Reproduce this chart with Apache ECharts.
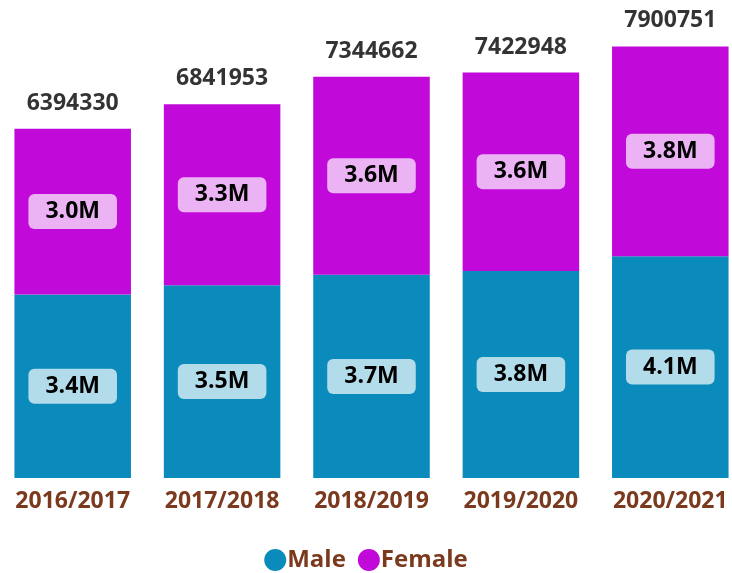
<!DOCTYPE html>
<html>
<head>
<meta charset="utf-8">
<script src="https://cdn.jsdelivr.net/npm/echarts@6/dist/echarts.min.js"></script>
<style>
  html, body { margin: 0; padding: 0; background: #fff; }
  #chart { width: 732px; height: 573px; }
</style>
</head>
<body>
<div id="chart"></div>
<script>
  const years = ['2016/2017', '2017/2018', '2018/2019', '2019/2020', '2020/2021']
  const male = [3360000, 3530000, 3720000, 3790000, 4060000]
  const female = [3034330, 3311953, 3624662, 3632948, 3840751]
  const totals = [6394330, 6841953, 7344662, 7422948, 7900751]

  const colors = ['#0a8bbb', '#c10ad9']
  const brown = '#7b3a1e'
  const font = '"Open Sans", "Noto Sans", sans-serif'

  function fmtM(v) {
    return (v / 1e6).toFixed(1) + 'M'
  }

  function inner(bg) {
    return {
      show: true,
      position: 'inside',
      formatter: p => fmtM(p.value),
      color: '#000',
      fontFamily: font,
      fontWeight: 'bold',
      fontSize: 23,
      backgroundColor: bg,
      borderRadius: 6,
      padding: [7, 17, 5, 17]
    }
  }

  const chart = echarts.init(document.getElementById('chart'))
  chart.setOption({
    animation: false,
    color: colors,
    grid: { left: -2, width: 747, top: 41, bottom: 95, containLabel: false, outerBoundsMode: 'none' },
    legend: {
      top: 543,
      left: 'center',
      icon: 'circle',
      itemWidth: 22,
      itemHeight: 22,
      itemGap: 12,
      data: ['Male', 'Female'],
      textStyle: { color: brown, fontFamily: font, fontWeight: 'bold', fontSize: 24, padding: [0, 0, 0, -4] }
    },
    xAxis: {
      type: 'category',
      data: years,
      axisLine: { show: false },
      axisTick: { show: false },
      axisLabel: { interval: 0, hideOverlap: false, color: brown, fontFamily: font, fontWeight: 'bold', fontSize: 23, margin: 12 }
    },
    yAxis: {
      type: 'value',
      min: 0,
      max: 8000000,
      show: false,
      splitLine: { show: false }
    },
    series: [
      {
        name: 'Male',
        type: 'bar',
        stack: 'all',
        barCategoryGap: '22%',
        data: male,
        label: inner('#b3dcea')
      },
      {
        name: 'Female',
        type: 'bar',
        stack: 'all',
        barCategoryGap: '22%',
        data: female,
        label: inner('#ecb3f4')
      },
      {
        name: 'Total',
        type: 'scatter',
        symbolSize: 0,
        data: totals,
        label: {
          show: true,
          position: 'top',
          distance: 14,
          formatter: p => String(p.value),
          color: '#000',
          fontFamily: font,
          fontWeight: 'bold',
          fontSize: 23
        },
        silent: true
      }
    ]
  })
</script>
</body>
</html>
